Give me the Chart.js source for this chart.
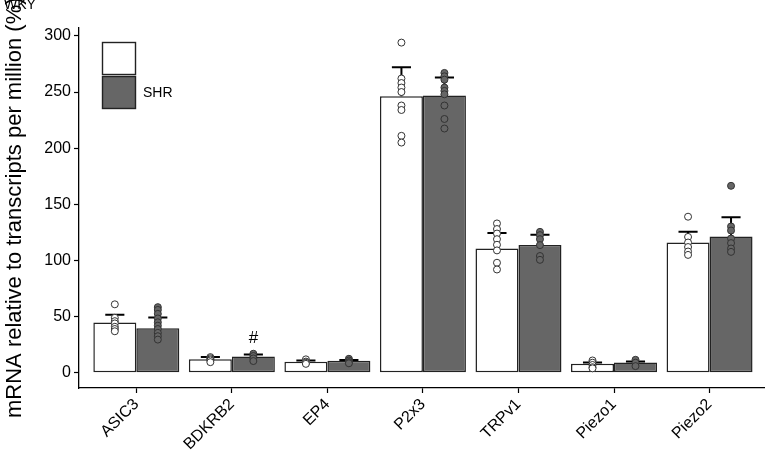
<!DOCTYPE html>
<html>
<head>
<meta charset="utf-8">
<script src="https://cdn.jsdelivr.net/npm/chart.js@4"></script>
<style>
  html, body { margin: 0; padding: 0; background: #fff; }
  #wrap { width: 769px; height: 451px; position: relative; }
</style>
</head>
<body>
<div id="wrap"><canvas id="tpmChart"></canvas></div>
<script>
// ------------------------------------------------------------
// mRNA (TPM) por gen — WKY vs SHR
// ------------------------------------------------------------
const categories = ['ASIC3', 'BDKRB2', 'EP4', 'P2x3', 'TRPv1', 'Piezo1', 'Piezo2'];
const yTicks     = [0, 50, 100, 150, 200, 250, 300];

const wkyMean = [44.8, 12.2, 9.8, 246.3, 110.7, 8.0, 116.0];
const wkyErr  = [7.0, 1.8, 1.2, 25.7, 13.7, 1.2, 9.5];
const shrMean = [39.8, 14.5, 10.7, 246.9, 113.7, 9.2, 121.4];
const shrErr  = [9.5, 1.8, 0.8, 16.0, 9.3, 0.8, 17.2];

const wkyPoints = [
    [61, 49, 46, 44, 41, 39, 37],
    [14, 13, 12, 11, 9.5],
    [12, 10, 9, 8],
    [294, 262, 258, 254, 250, 238, 234, 211, 205],
    [133, 128, 124, 119, 114, 109, 98, 92],
    [11, 9, 7, 5, 4],
    [139, 121, 116, 112, 108, 105]
];
const shrPoints = [
    [58.5, 56, 52.5, 48.4, 45, 42, 39, 35.6, 32.6, 29.6],
    [17, 15, 12.8, 10.5],
    [12.5, 11, 9.5, 8.5],
    [267, 264, 261, 254, 251, 248, 238, 226, 217.5],
    [125.5, 122.6, 119, 113.7, 104, 100.6],
    [11.6, 9, 6],
    [166.5, 130.3, 126.7, 119.6, 115.5, 110.7, 107.7]
];

// marca de significancia sobre la barra SHR de BDKRB2
const sigMarks = [{ cat: 1, text: '#', y: 31 }];

const DODGE = 0.225;   // media barra (en unidades de categoría)
const CAP   = 0.1;     // media tapa de la barra de error

const FONT = "'Liberation Sans', Arial, Helvetica, sans-serif";

function barData(means) {
    return means.map((v, i) => ({ x: i + 1, y: v }));
}
function pointData(groups, shift) {
    const out = [];
    groups.forEach((g, i) => g.forEach(v => out.push({ x: i + 1 + shift, y: v })));
    return out;
}
function errData(means, errs, shift) {
    const out = [];
    means.forEach((m, i) => {
        const x = i + 1 + shift;
        const top = m + errs[i];
        out.push({ x: x, y: m }, { x: x, y: top }, { x: x, y: null });
        out.push({ x: x - CAP, y: top }, { x: x + CAP, y: top }, { x: x, y: null });
    });
    return out;
}

// Título del eje Y, leyenda y anotaciones
const annotations = {
    id: 'annotations',
    afterDraw(chart) {
        const ctx = chart.ctx;
        const xs = chart.scales.x, ys = chart.scales.y;
        ctx.save();

        // título eje Y (se corta arriba como en el original)
        ctx.fillStyle = '#000';
        ctx.font = `22px ${FONT}`;
        ctx.textAlign = 'left';
        ctx.textBaseline = 'alphabetic';
        ctx.translate(21, 418);
        ctx.rotate(-Math.PI / 2);
        ctx.fillText('mRNA relative to transcripts per million (%)', 0, 0);
        ctx.setTransform(1, 0, 0, 1, 0, 0);

        // leyenda
        ctx.lineWidth = 1.4;
        ctx.strokeStyle = '#222';
        ctx.fillStyle = '#fff';
        ctx.fillRect(102.5, 42.5, 33, 32);
        ctx.strokeRect(102.5, 42.5, 33, 32);
        ctx.fillStyle = '#666';
        ctx.fillRect(102.5, 76.5, 33, 32);
        ctx.strokeRect(102.5, 76.5, 33, 32);

        ctx.fillStyle = '#000';
        ctx.font = `14px ${FONT}`;
        ctx.textBaseline = 'middle';
        ctx.fillText('SHR', 143, 93);
        ctx.fillText('WKY', 4, 5);

        // marcas de significancia
        ctx.font = `17px ${FONT}`;
        ctx.textAlign = 'center';
        sigMarks.forEach(s => {
            ctx.fillText(s.text, xs.getPixelForValue(s.cat + 1 + DODGE), ys.getPixelForValue(s.y));
        });
        ctx.restore();
    }
};

const ctx = document.getElementById('tpmChart').getContext('2d');
new Chart(ctx, {
    type: 'bar',
    data: {
        datasets: [
            {
                label: 'WKY',
                data: barData(wkyMean),
                backgroundColor: '#ffffff',
                borderColor: '#222222',
                borderWidth: 1.5,
                borderSkipped: false,
                categoryPercentage: 0.9,
                barPercentage: 1.0,
                order: 3
            },
            {
                label: 'SHR',
                data: barData(shrMean),
                backgroundColor: '#666666',
                borderColor: '#222222',
                borderWidth: 1.5,
                borderSkipped: false,
                categoryPercentage: 0.9,
                barPercentage: 1.0,
                order: 3
            },
            {
                type: 'line',
                data: errData(wkyMean, wkyErr, -DODGE),
                borderColor: '#000',
                borderWidth: 2,
                pointRadius: 0,
                spanGaps: false,
                order: 2
            },
            {
                type: 'line',
                data: errData(shrMean, shrErr, DODGE),
                borderColor: '#000',
                borderWidth: 2,
                pointRadius: 0,
                spanGaps: false,
                order: 2
            },
            {
                type: 'scatter',
                data: pointData(wkyPoints, -DODGE),
                backgroundColor: '#ffffff',
                borderColor: '#333333',
                borderWidth: 1,
                pointRadius: 3.5,
                order: 1
            },
            {
                type: 'scatter',
                data: pointData(shrPoints, DODGE),
                backgroundColor: '#666666',
                borderColor: '#333333',
                borderWidth: 1,
                pointRadius: 3.5,
                order: 1
            }
        ]
    },
    options: {
        responsive: true,
        maintainAspectRatio: false,
        animation: false,
        layout: { padding: { top: 28, right: 0, left: 0, bottom: 0 } },
        plugins: { legend: { display: false }, tooltip: { enabled: false } },
        scales: {
            x: {
                type: 'linear',
                min: 0.4,
                max: 7.57,
                offset: false,
                afterBuildTicks: s => { s.ticks = categories.map((c, i) => ({ value: i + 1 })); },
                afterFit: s => { s.height = 63; },
                grid: { offset: false, drawOnChartArea: false, drawTicks: true, tickLength: 5, tickColor: '#000', tickWidth: 1.2 },
                border: { display: true, color: '#000', width: 1.3 },
                ticks: {
                    autoSkip: false,
                    minRotation: 45,
                    maxRotation: 45,
                    padding: 2,
                    color: '#000',
                    font: { family: FONT, size: 16 },
                    callback: v => categories[Math.round(v) - 1] || ''
                }
            },
            y: {
                min: -13.5,
                max: 307,
                afterBuildTicks: s => { s.ticks = yTicks.map(v => ({ value: v })); },
                afterFit: s => { s.width = 79; },
                grid: { drawOnChartArea: false, drawTicks: true, tickLength: 5, tickColor: '#000', tickWidth: 1.2 },
                border: { display: true, color: '#000', width: 1.3 },
                ticks: {
                    padding: 3,
                    color: '#000',
                    font: { family: FONT, size: 16 }
                }
            }
        }
    },
    plugins: [annotations]
});
</script>
</body>
</html>
